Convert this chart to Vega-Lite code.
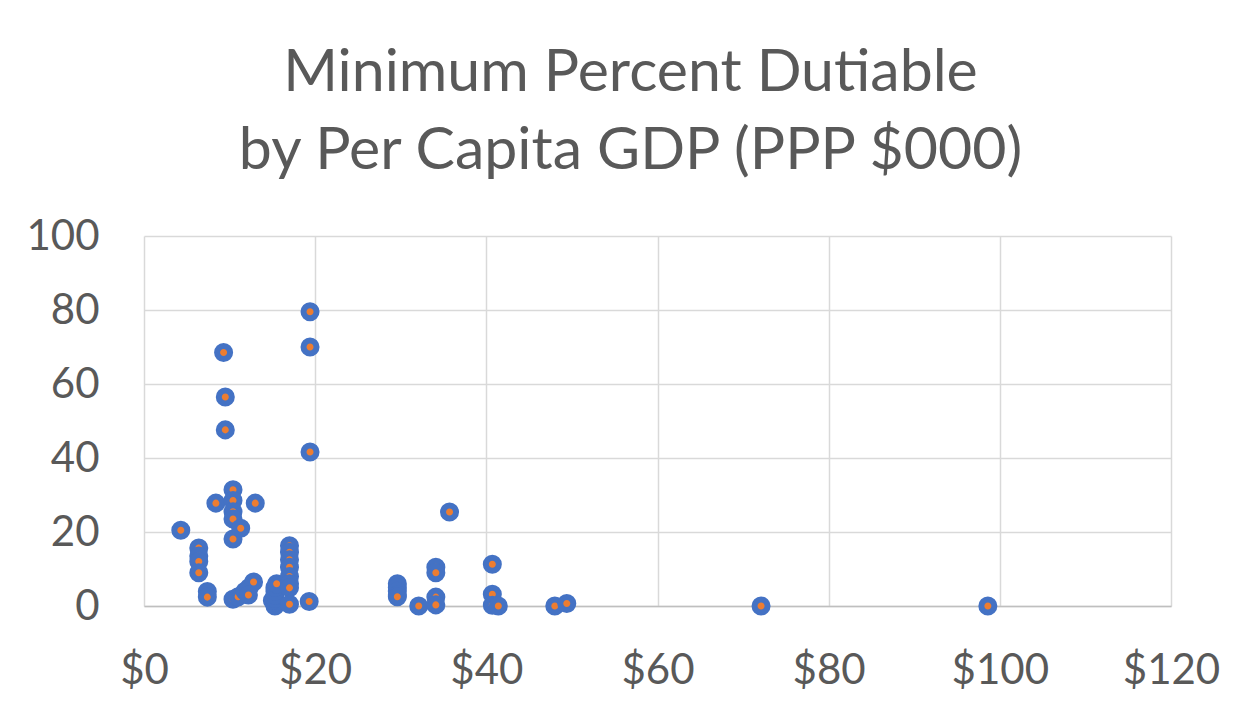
{
  "$schema": "https://vega.github.io/schema/vega-lite/v6.json",
  "autosize": {"type": "none"},
  "width": 1027,
  "height": 370,
  "padding": {"left": 144, "top": 236, "right": 82, "bottom": 107},
  "background": "white",
  "title": {
    "text": ["Minimum Percent Dutiable", "by Per Capita GDP (PPP $000)"],
    "font": "Lato",
    "fontSize": 59,
    "fontWeight": "normal",
    "color": "#595959",
    "lineHeight": 78,
    "anchor": "middle",
    "dx": -27,
    "offset": 34
  },
  "config": {
    "view": {"stroke": null},
    "axis": {
      "labelFont": "Lato",
      "labelFontSize": 42,
      "labelColor": "#595959",
      "gridColor": "#d9d9d9",
      "gridWidth": 1.5,
      "ticks": false,
      "title": null
    }
  },
  "data": {
    "values": [
      {"gdp": 4.3, "pct": 20.5},
      {"gdp": 6.4, "pct": 15.7},
      {"gdp": 6.4, "pct": 13.5},
      {"gdp": 6.4, "pct": 12.0},
      {"gdp": 6.4, "pct": 9.0},
      {"gdp": 7.4, "pct": 3.9},
      {"gdp": 7.4, "pct": 2.4},
      {"gdp": 8.4, "pct": 27.8},
      {"gdp": 9.3, "pct": 68.5},
      {"gdp": 9.5, "pct": 56.5},
      {"gdp": 9.5, "pct": 47.6},
      {"gdp": 10.4, "pct": 31.4},
      {"gdp": 10.4, "pct": 28.5},
      {"gdp": 10.4, "pct": 25.5},
      {"gdp": 10.4, "pct": 23.5},
      {"gdp": 10.4, "pct": 18.1},
      {"gdp": 11.3, "pct": 21.0},
      {"gdp": 13.0, "pct": 27.8},
      {"gdp": 10.4, "pct": 1.8},
      {"gdp": 11.0, "pct": 2.5},
      {"gdp": 11.8, "pct": 4.0},
      {"gdp": 12.3, "pct": 5.0},
      {"gdp": 12.8, "pct": 6.5},
      {"gdp": 12.2, "pct": 3.0},
      {"gdp": 15.3, "pct": 0.0},
      {"gdp": 15.3, "pct": 1.0},
      {"gdp": 15.0, "pct": 1.5},
      {"gdp": 15.3, "pct": 2.0},
      {"gdp": 15.3, "pct": 3.0},
      {"gdp": 15.3, "pct": 4.0},
      {"gdp": 15.3, "pct": 5.0},
      {"gdp": 15.5, "pct": 6.0},
      {"gdp": 17.0, "pct": 16.3},
      {"gdp": 17.0, "pct": 14.5},
      {"gdp": 17.0, "pct": 12.5},
      {"gdp": 17.0, "pct": 10.5},
      {"gdp": 17.0, "pct": 8.0},
      {"gdp": 17.0, "pct": 6.0},
      {"gdp": 17.0, "pct": 4.9},
      {"gdp": 17.0, "pct": 0.5},
      {"gdp": 19.3, "pct": 1.2},
      {"gdp": 19.4, "pct": 79.5},
      {"gdp": 19.4, "pct": 70.0},
      {"gdp": 19.4, "pct": 41.6},
      {"gdp": 29.6, "pct": 6.0},
      {"gdp": 29.6, "pct": 5.0},
      {"gdp": 29.6, "pct": 4.0},
      {"gdp": 29.6, "pct": 3.0},
      {"gdp": 29.6, "pct": 2.5},
      {"gdp": 32.1, "pct": 0.0},
      {"gdp": 34.1, "pct": 10.5},
      {"gdp": 34.1, "pct": 9.0},
      {"gdp": 34.1, "pct": 2.4},
      {"gdp": 34.1, "pct": 0.3},
      {"gdp": 35.7, "pct": 25.4},
      {"gdp": 40.7, "pct": 11.3},
      {"gdp": 40.7, "pct": 3.2},
      {"gdp": 40.7, "pct": 0.2},
      {"gdp": 41.4, "pct": 0.0},
      {"gdp": 48.0, "pct": 0.0},
      {"gdp": 49.4, "pct": 0.7},
      {"gdp": 72.1, "pct": 0.0},
      {"gdp": 98.6, "pct": 0.0}
    ]
  },
  "mark": {
    "type": "point",
    "filled": true,
    "fill": "#ED7D31",
    "stroke": "#4472C4",
    "strokeWidth": 6,
    "size": 170,
    "opacity": 1,
    "fillOpacity": 1,
    "strokeOpacity": 1
  },
  "encoding": {
    "x": {
      "field": "gdp",
      "type": "quantitative",
      "scale": {"domain": [0, 120], "nice": false, "zero": false},
      "axis": {
        "values": [0, 20, 40, 60, 80, 100, 120],
        "format": "$.0f",
        "labelPadding": 44,
        "labelFlush": false,
        "domain": true,
        "domainColor": "#bfbfbf",
        "domainWidth": 1.5
      }
    },
    "y": {
      "field": "pct",
      "type": "quantitative",
      "scale": {"domain": [0, 100], "nice": false},
      "axis": {
        "values": [0, 20, 40, 60, 80, 100],
        "labelPadding": 45,
        "labelFlush": false,
        "domain": false
      }
    }
  }
}
